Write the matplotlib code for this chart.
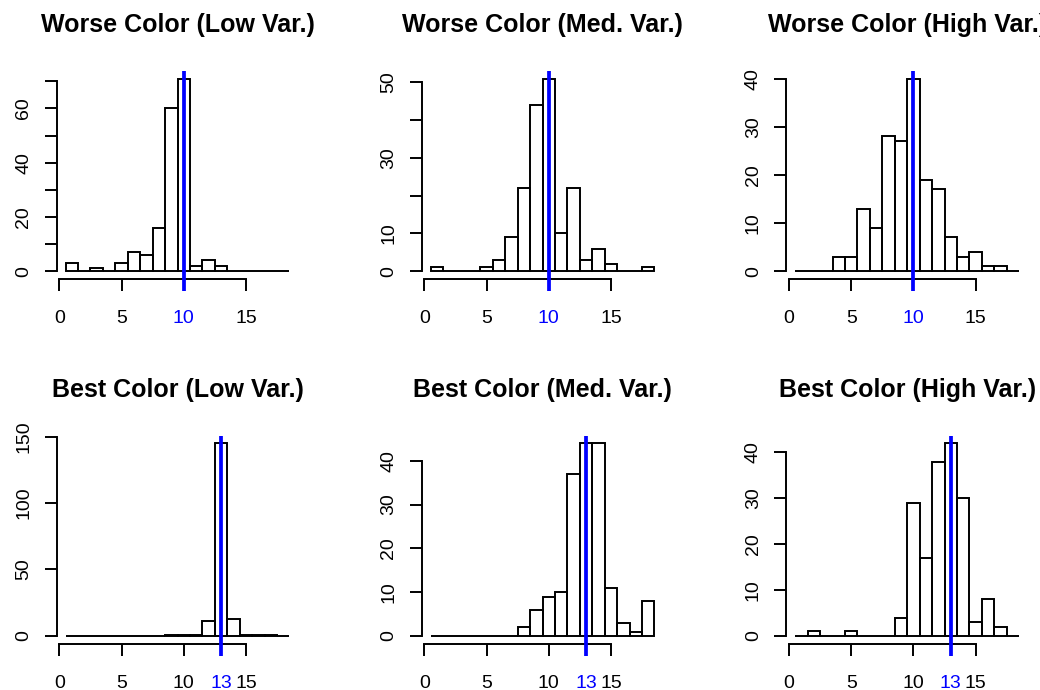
import matplotlib
matplotlib.use("Agg")
import matplotlib.pyplot as plt
import numpy as np

plt.rcParams["font.family"] = ["Liberation Sans", "DejaVu Sans"]

# histogram counts per unit bin, bins centred on 1..18
bin_centers = np.arange(1, 19)

worse_low = [3, 0, 1, 0, 3, 7, 6, 16, 60, 71, 2, 4, 2, 0, 0, 0, 0, 0]
worse_med = [1, 0, 0, 0, 1, 3, 9, 22, 44, 51, 10, 22, 3, 6, 2, 0, 0, 1]
worse_high = [0, 0, 0, 3, 3, 13, 9, 28, 27, 40, 19, 17, 7, 3, 4, 1, 1, 0]
best_low = [0, 0, 0, 0, 0, 0, 0, 0, 1, 1, 1, 11, 145, 13, 1, 1, 1, 0]
best_med = [0, 0, 0, 0, 0, 0, 0, 2, 6, 9, 10, 37, 44, 44, 11, 3, 1, 8]
best_high = [0, 1, 0, 0, 1, 0, 0, 0, 4, 29, 17, 38, 42, 30, 3, 8, 2, 0]

titles = ["Worse Color (Low Var.)", "Worse Color (Med. Var.)", "Worse Color (High Var.)",
          "Best Color (Low Var.)", "Best Color (Med. Var.)", "Best Color (High Var.)"]
series = [worse_low, worse_med, worse_high, best_low, best_med, best_high]
markers = [10, 10, 10, 13, 13, 13]

x_ticks = [0, 5, 10, 15]
y_ticks = [[0, 10, 20, 30, 40, 50, 60, 70],
           [0, 10, 20, 30, 40, 50],
           [0, 10, 20, 30, 40],
           [0, 50, 100, 150],
           [0, 10, 20, 30, 40],
           [0, 10, 20, 30, 40]]
# R drops labels that would overlap
y_labels = [["0", "", "20", "", "40", "", "60", ""],
            ["0", "10", "", "30", "", "50"],
            ["0", "10", "20", "30", "40"],
            ["0", "50", "100", "150"],
            ["0", "10", "20", "30", "40"],
            ["0", "10", "20", "30", "40"]]

W, H = 1040, 690
fig = plt.figure(figsize=(W / 100, H / 100), dpi=100)

lefts = [56.6, 421.6, 786.3]
tops = [70.9, 435.6]
ax_w, ax_h = 241.8, 208.0
lw = 1.4
tick_px = 12.0

for i, counts in enumerate(series):
    row, col = divmod(i, 3)
    ax = fig.add_axes([lefts[col] / W, 1 - (tops[row] + ax_h) / H, ax_w / W, ax_h / H])

    ax.bar(bin_centers, counts, width=1, fill=False, edgecolor="black", linewidth=lw)

    lo, hi = bin_centers[0] - 0.5, bin_centers[-1] + 0.5
    pad = 0.04 * (hi - lo)
    ax.set_xlim(lo - pad, hi + pad)
    top = max(counts)
    ax.set_ylim(-0.04 * top, 1.04 * top)

    for s in ["top", "right"]:
        ax.spines[s].set_visible(False)
    for s in ["left", "bottom"]:
        ax.spines[s].set_linewidth(lw)
    ax.spines["left"].set_bounds(y_ticks[i][0], y_ticks[i][-1])
    ax.spines["bottom"].set_bounds(x_ticks[0], x_ticks[-1])

    ax.set_yticks(y_ticks[i])
    ax.set_yticklabels(y_labels[i], rotation=90, va="center")

    xt = sorted(set(x_ticks + [markers[i]]))
    ax.set_xticks(xt)
    labels = ax.set_xticklabels([str(t) for t in xt])
    for t, lab in zip(xt, labels):
        if t == markers[i]:
            lab.set_color("blue")

    ax.tick_params(axis="both", direction="out", length=tick_px * 0.72, width=lw, labelsize=14)
    ax.tick_params(axis="x", pad=14)
    ax.tick_params(axis="y", pad=9.0)

    # marker line through plot region, down past the axis like a tick
    ax.plot([markers[i], markers[i]], [-tick_px / ax_h, 1], color="blue", linewidth=2.7,
            transform=ax.get_xaxis_transform(), clip_on=False, solid_capstyle="butt", zorder=5)

    ax.set_title(titles[i], fontsize=18, fontweight="bold", pad=28)

fig.savefig("out.png", dpi=100)
